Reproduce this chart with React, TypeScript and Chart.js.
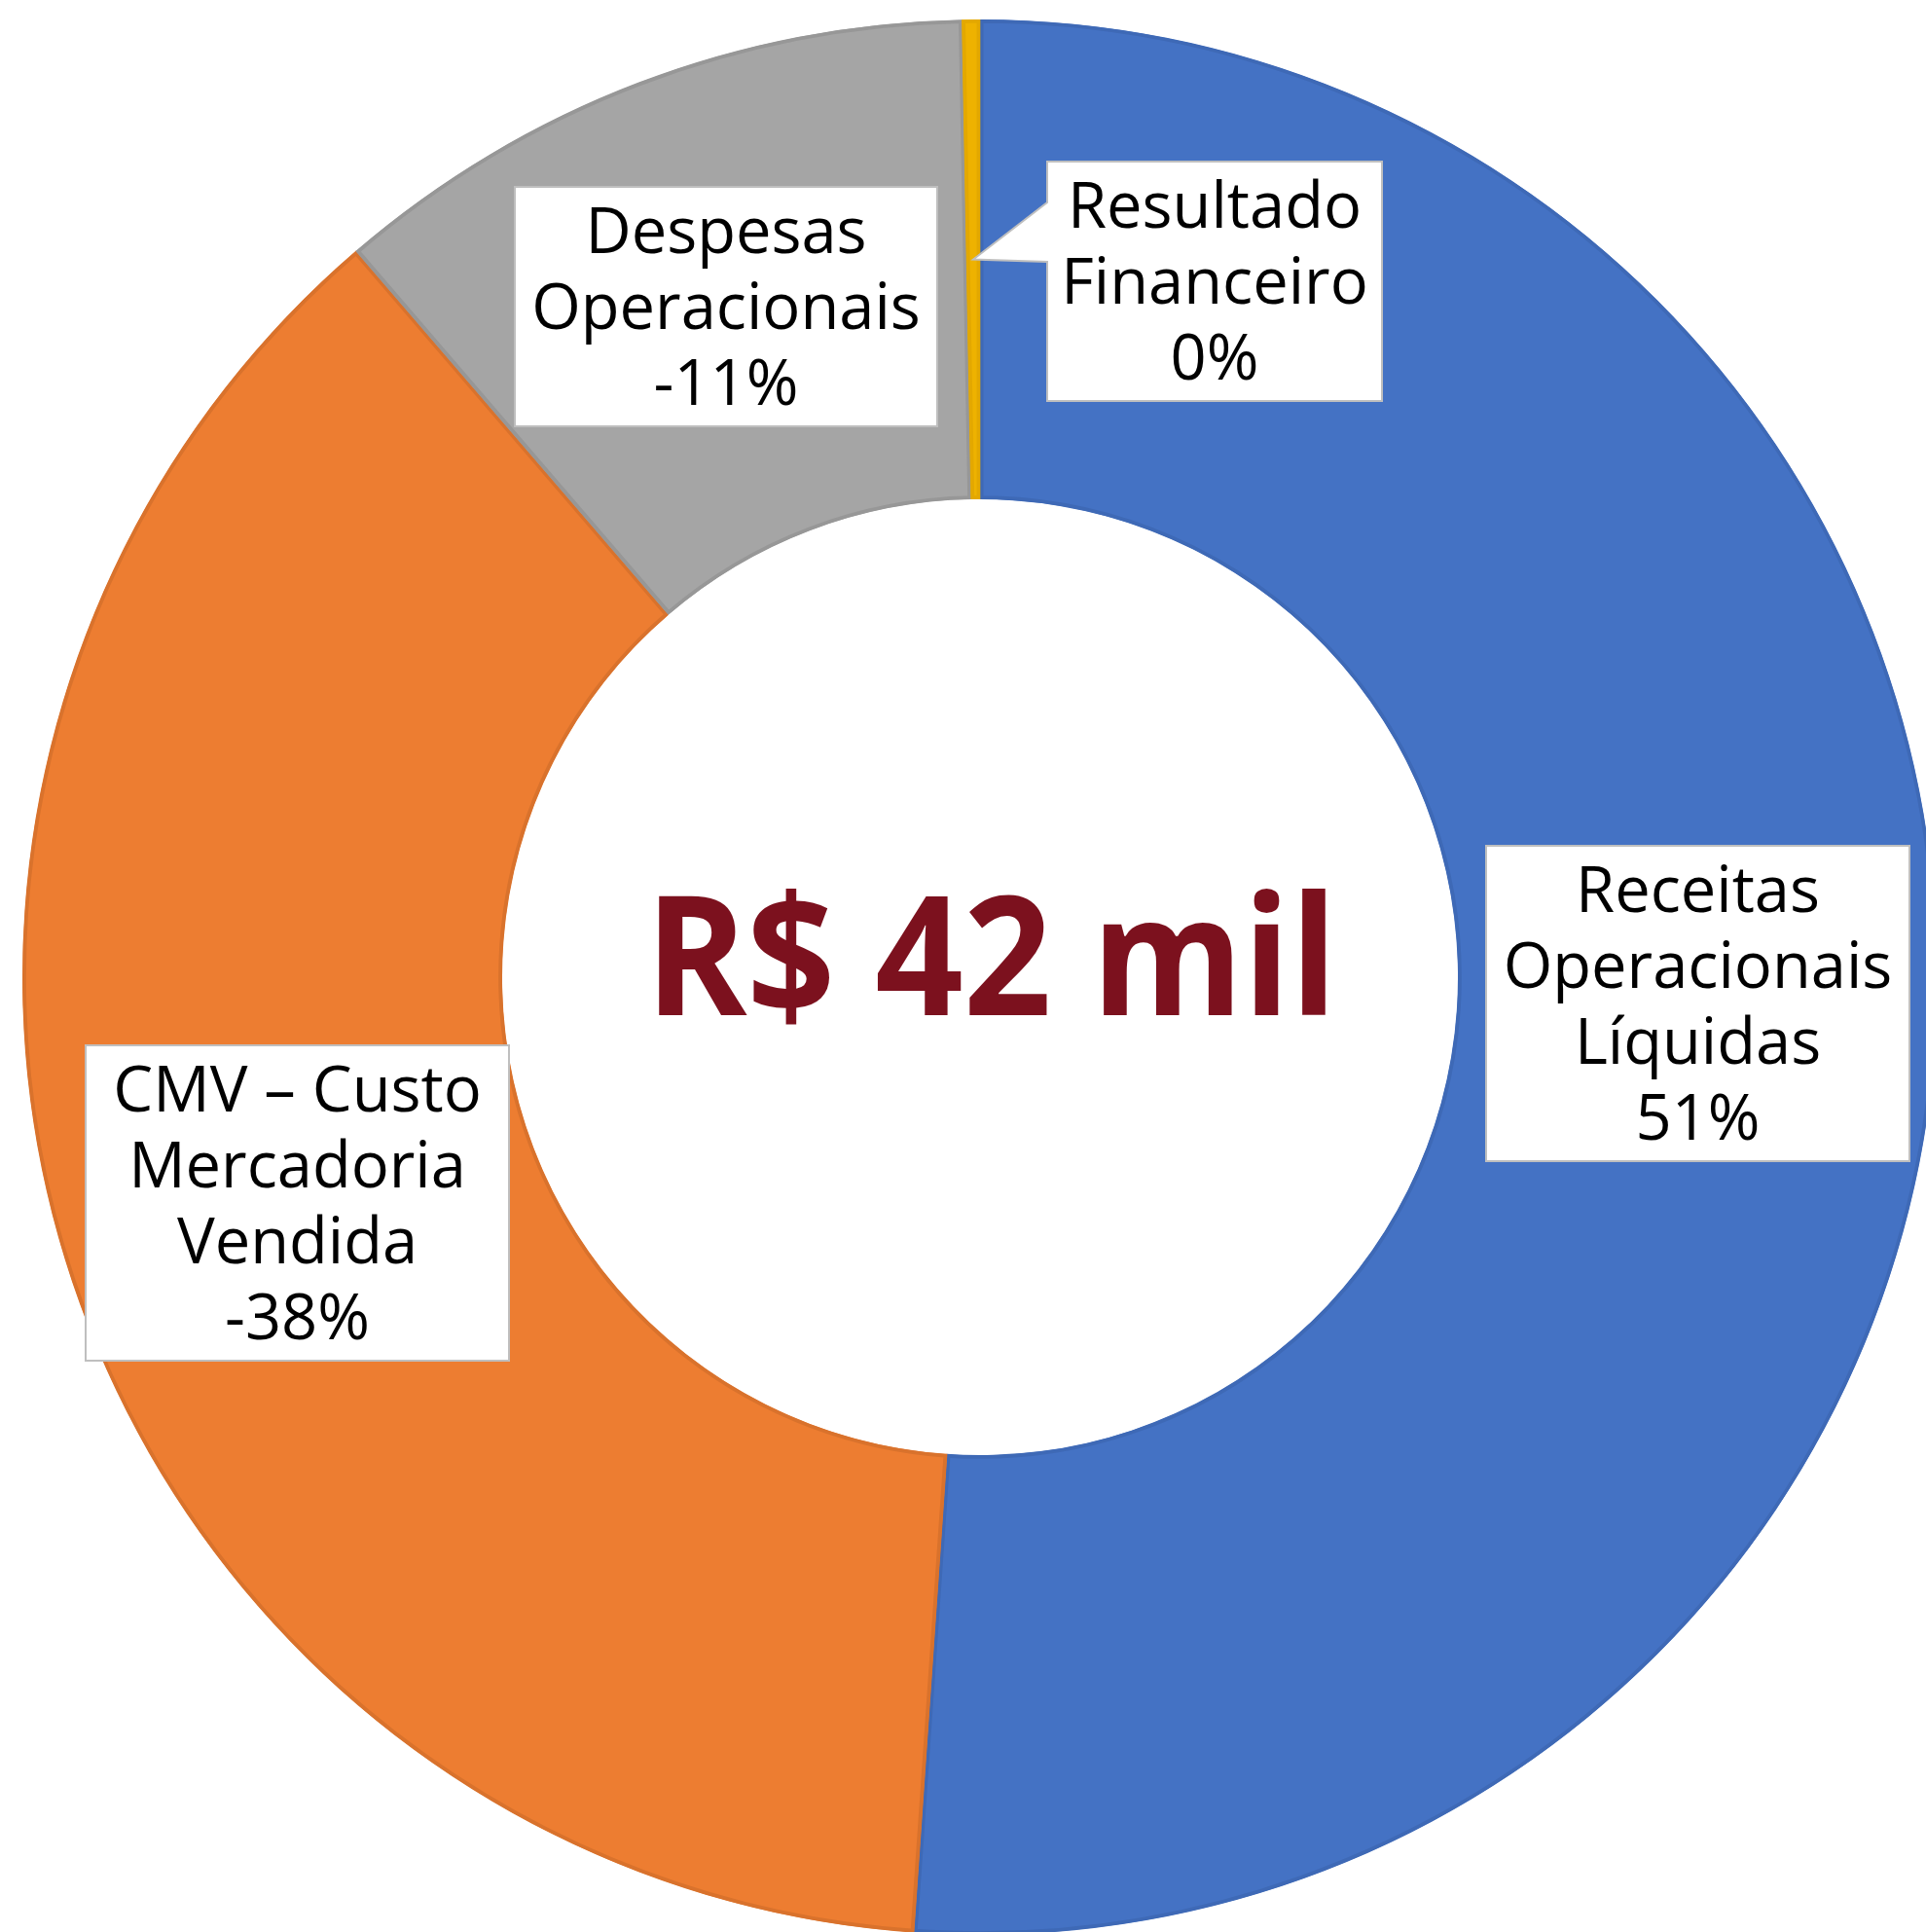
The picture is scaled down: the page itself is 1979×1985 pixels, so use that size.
import React, { useEffect, useRef } from "react";
import { Chart, registerables } from "chart.js";

Chart.register(...registerables);

// ---- data ----
const categories = [
  "Receitas Operacionais Líquidas",
  "CMV – Custo Mercadoria Vendida",
  "Despesas Operacionais",
  "Resultado Financeiro",
];
const shares = [51.1, 37.6, 11.0, 0.3];
const percentLabels = ["51%", "-38%", "-11%", "0%"];
const labelLines = [
  ["Receitas", "Operacionais", "Líquidas"],
  ["CMV – Custo", "Mercadoria", "Vendida"],
  ["Despesas", "Operacionais"],
  ["Resultado", "Financeiro"],
];
const centerText = "R$ 42 mil";

// ---- styles / layout ----
const fillColors = ["#4472C4", "#ED7D31", "#A5A5A5", "#EEB200"];
const borderColors = ["#3E69B6", "#D9722C", "#979797", "#E3A800"];
const LABEL_FONT = '"Open Sans", "Noto Sans", sans-serif';
const LABEL_SIZE = 65;
const LINE_H = 78;
const boxLayout = [
  { dx: 737.5, dy: 27, w: 435, callout: false },
  { dx: -701.5, dy: 232, w: 435, callout: false },
  { dx: -261, dy: -689, w: 434, callout: false },
  { dx: 241, dy: -715, w: 344, callout: true },
];

const labelPlugin = {
  id: "boxLabels",
  afterDatasetsDraw(chart: any) {
    const ctx = chart.ctx as CanvasRenderingContext2D;
    const meta = chart.getDatasetMeta(0);
    const ca = chart.chartArea;
    const cx = (ca.left + ca.right) / 2;
    const cy = (ca.top + ca.bottom) / 2;

    // centre text
    ctx.save();
    ctx.font = `bold 171px ${LABEL_FONT}`;
    const tw = ctx.measureText(centerText).width;
    const sx = 711 / tw;
    ctx.fillStyle = "#7C111E";
    ctx.textAlign = "center";
    ctx.textBaseline = "alphabetic";
    ctx.translate(cx + 11.5, cy + 39);
    ctx.scale(sx, 1);
    ctx.fillText(centerText, 0, 0);
    ctx.restore();

    meta.data.forEach((arc: any, i: number) => {
      const L = boxLayout[i];
      const lines = [...labelLines[i], percentLabels[i]];
      const h = lines.length * LINE_H + 12;
      const bx = cx + L.dx - L.w / 2;
      const by = cy + L.dy - h / 2;
      ctx.save();
      ctx.beginPath();
      if (L.callout) {
        const tip = arc.tooltipPosition(false);
        ctx.moveTo(bx, by);
        ctx.lineTo(bx + L.w, by);
        ctx.lineTo(bx + L.w, by + h);
        ctx.lineTo(bx, by + h);
        ctx.lineTo(bx, by + 103);
        ctx.lineTo(tip.x, tip.y);
        ctx.lineTo(bx, by + 42);
        ctx.closePath();
      } else {
        ctx.rect(bx, by, L.w, h);
      }
      ctx.fillStyle = "#FFFFFF";
      ctx.fill();
      ctx.strokeStyle = "#BFBFBF";
      ctx.lineWidth = 2;
      ctx.stroke();
      ctx.fillStyle = "#000000";
      ctx.font = `${LABEL_SIZE}px ${LABEL_FONT}`;
      ctx.textAlign = "center";
      ctx.textBaseline = "alphabetic";
      lines.forEach((t, k) => {
        ctx.fillText(t, bx + L.w / 2, by + 6 + LINE_H * k + LINE_H / 2 + 0.357 * LABEL_SIZE);
      });
      ctx.restore();
    });
  },
};

export default function App() {
  const ref = useRef<HTMLCanvasElement | null>(null);
  useEffect(() => {
    document.body.style.margin = "0";
    document.body.style.overflow = "hidden";
    const canvas = ref.current!;
    const chart = new Chart(canvas, {
      type: "doughnut",
      data: {
        labels: categories,
        datasets: [
          {
            data: shares,
            backgroundColor: fillColors,
            borderColor: borderColors,
            borderWidth: 3.5,
            borderAlign: "inner",
            hoverOffset: 0,
            offset: 0,
          } as any,
        ],
      },
      options: {
        responsive: false,
        animation: false,
        devicePixelRatio: 1,
        cutout: "49.9%",
        rotation: 0,
        layout: { padding: 0 },
        plugins: {
          legend: { display: false },
          tooltip: { enabled: false },
          title: { display: false },
        },
        events: [],
      } as any,
      plugins: [labelPlugin],
    });
    return () => chart.destroy();
  }, []);

  return (
    <div
      style={{
        position: "absolute",
        left: 0,
        top: 0,
        width: 1979,
        height: 1985,
        overflow: "hidden",
        background: "#FFFFFF",
      }}
    >
      <canvas
        ref={ref}
        width={1968}
        height={1968}
        style={{ position: "absolute", left: 23, top: 20, width: 1968, height: 1968 }}
      />
    </div>
  );
}
